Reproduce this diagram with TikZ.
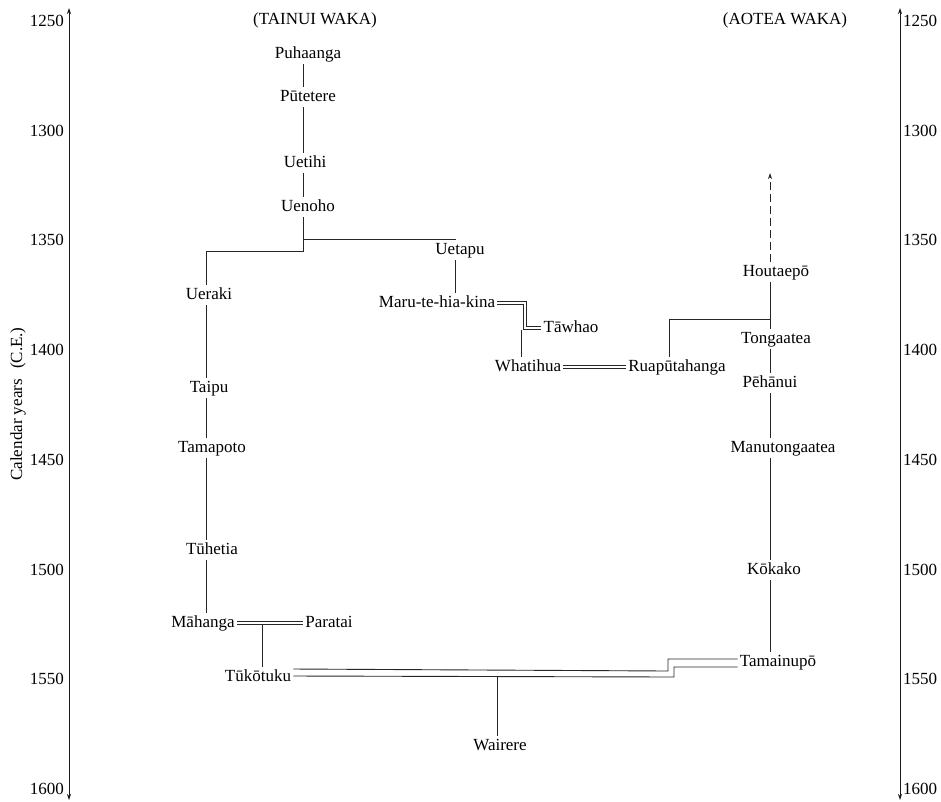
\documentclass[tikz,border=0pt]{standalone}
\usepackage{fontspec}
\setmainfont{Liberation Serif}
\usetikzlibrary{arrows.meta}
\tikzset{
  lbl/.style={inner sep=2pt, text height=12pt, text depth=4pt},
  link/.style={draw=black!85, line width=1pt},
  dbl/.style={draw=black!85, line width=0.85pt, double=white, double distance=2.6pt},
  thinlink/.style={draw=black!85, line width=0.9pt},
  axisline/.style={draw=black!90, line width=0.9pt, {Stealth[length=6pt,width=4pt]}-{Stealth[length=6pt,width=4pt]}},
  ticklbl/.style={inner sep=0pt}
}
\begin{document}
\begin{tikzpicture}[x=1pt, y=-1pt, font=\fontsize{17}{20}\selectfont]
\useasboundingbox (0,0) rectangle (941,801);

% time axes
\coordinate (Ltop) at (69,8);  \coordinate (Lbot) at (69,800);
\coordinate (Rtop) at (900,8); \coordinate (Rbot) at (900,800);
\draw[axisline] (Lbot) -- (Ltop);
\draw[axisline] (Rbot) -- (Rtop);
\foreach \yr in {1250,1300,...,1600}{
  \node[ticklbl, anchor=east] (yl\yr) at (64, {21+(\yr-1250)*2.194}) {\yr};
  \node[ticklbl, anchor=west] (yr\yr) at (903, {21+(\yr-1250)*2.194}) {\yr};
}
\node[lbl, rotate=90] (cal) at (18,404) {Calendar years\hspace{0.6em}(C.E.)};

% headings
\node[lbl] (tainui) at (315,20) {(TAINUI WAKA)};
\node[lbl] (aotea) at (785,20) {(AOTEA WAKA)};

% Tainui line
\node[lbl] (puh) at (308,54) {Puhaanga};
\node[lbl] (put) at (308,97) {Pūtetere};
\node[lbl] (uet) at (305,163) {Uetihi};
\node[lbl] (uen) at (308,207) {Uenoho};
\node[lbl] (uetapu) at (460,250) {Uetapu};
\node[lbl] (maru) at (437,303) {Maru-te-hia-kina};
\node[lbl] (taw) at (571,328) {Tāwhao};
\node[lbl] (wha) at (528,367) {Whatihua};
\node[lbl] (rua) at (677,367) {Ruapūtahanga};
\node[lbl] (uer) at (209,295) {Ueraki};
\node[lbl] (tai) at (209,388) {Taipu};
\node[lbl] (tmp) at (212,448) {Tamapoto};
\node[lbl] (tuh) at (212,550) {Tūhetia};
\node[lbl] (mah) at (203,623) {Māhanga};
\node[lbl] (par) at (329,623) {Paratai};
\node[lbl] (tuk) at (258,677) {Tūkōtuku};
\node[lbl] (wai) at (500,746) {Wairere};

% Aotea line
\node[lbl] (hou) at (776,272) {Houtaepō};
\node[lbl] (ton) at (776,339) {Tongaatea};
\node[lbl] (peh) at (770,383) {Pēhānui};
\node[lbl] (man) at (783,448) {Manutongaatea};
\node[lbl] (kok) at (774,570) {Kōkako};
\node[lbl] (tam) at (778,662) {Tamainupō};

% vertical trunks
\coordinate (tT) at (303,0);
\coordinate (tL) at (206,0);
\coordinate (tU) at (455,0);
\coordinate (tA) at (770,0);
\coordinate (tW) at (521,0);
\coordinate (tR) at (669,0);
\coordinate (tM) at (262,0);
\coordinate (tV) at (497,0);

% Tainui descent
\draw[link] (puh.south -| tT) -- (put.north -| tT);
\draw[link] (put.south -| tT) -- (uet.north -| tT);
\draw[link] (uet.south -| tT) -- (uen.north -| tT);
\coordinate (jU) at (303,239);
\coordinate (jL) at (303,251);
\draw[link] (uen.south -| tT) -- (jL) -| (uer.north -| tL);
\draw[link] (jU) -| (uetapu.north -| tU);
\draw[link] (uetapu.south -| tU) -- (maru.north -| tU);

\draw[link] (uer.south -| tL) -- (tai.north -| tL);
\draw[link] (tai.south -| tL) -- (tmp.north -| tL);
\draw[link] (tmp.south -| tL) -- (tuh.north -| tL);
\draw[link] (tuh.south -| tL) -- (mah.north -| tL);

% unions
\coordinate (mb) at (525,0);
\draw[dbl] (maru.east) -- (maru.east -| mb) |- (taw.west);
\coordinate (wj) at (521,330);
\draw[link] (wj) -- (wha.north -| tW);
\draw[dbl] (wha.east) -- (rua.west);

\draw[dbl] (mah.east) -- (par.west);
\coordinate (mj) at (262,625);
\draw[link] (mj) -- (tuk.north -| tM);

\draw[thinlink] ([yshift=8pt]tuk.east) -- (668,671) |- ([yshift=3pt]tam.west);
\draw[thinlink] ([yshift=1pt]tuk.east) -- (674,677) |- ([yshift=-5pt]tam.west);
\coordinate (vj) at (497,676);
\draw[link] (vj) -- (wai.north -| tV);

% Aotea descent
\coordinate (jA) at (770,319);
\coordinate (aTop) at (770,173);
\draw[link, dash pattern=on 8pt off 4pt, -{Stealth[length=6pt,width=4pt]}] (hou.north -| tA) -- (aTop);
\draw[link] (hou.south -| tA) -- (ton.north -| tA);
\draw[link] (rua.north -| tR) |- (jA);
\draw[link] (ton.south -| tA) -- (peh.north -| tA);
\draw[link] (peh.south -| tA) -- (man.north -| tA);
\draw[link] (man.south -| tA) -- (kok.north -| tA);
\draw[link] (kok.south -| tA) -- (tam.north -| tA);
\end{tikzpicture}
\end{document}
